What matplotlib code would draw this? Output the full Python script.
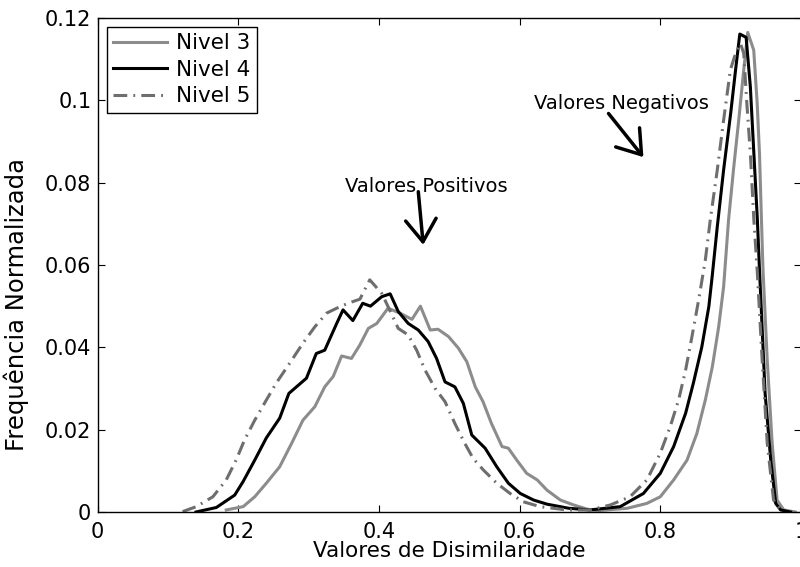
import matplotlib
matplotlib.use("Agg")
import matplotlib.pyplot as plt

plt.rcParams["font.family"] = ["DejaVu Sans"]

# Nivel 3 (gray solid)
x3 = [0.183, 0.207, 0.2235, 0.240, 0.259, 0.276, 0.292, 0.309, 0.323, 0.335, 0.347, 0.361,
      0.373, 0.385, 0.397, 0.413, 0.430, 0.447, 0.459, 0.473, 0.484, 0.499, 0.513, 0.525,
      0.537, 0.548, 0.560, 0.575, 0.584, 0.596, 0.610, 0.625, 0.639, 0.658, 0.677, 0.696,
      0.710, 0.753, 0.781, 0.800, 0.819, 0.838, 0.852, 0.864, 0.874, 0.883, 0.890, 0.897,
      0.904, 0.9115, 0.9186, 0.9243, 0.9328, 0.9377, 0.941, 0.9438, 0.946, 0.952, 0.959,
      0.966, 0.9755, 0.992]
y3 = [0.0005, 0.0013, 0.0037, 0.0070, 0.0110, 0.0167, 0.0223, 0.0256, 0.0304, 0.0329, 0.0379, 0.0373,
      0.0406, 0.0446, 0.0458, 0.0495, 0.0483, 0.0468, 0.0500, 0.0442, 0.0444, 0.0426, 0.0398, 0.0365,
      0.0304, 0.0268, 0.0215, 0.0159, 0.0155, 0.0126, 0.0094, 0.0078, 0.0053, 0.0029, 0.0017, 0.0007,
      0.0003, 0.0009, 0.0021, 0.0037, 0.0078, 0.0126, 0.0191, 0.0272, 0.0353, 0.0450, 0.0547, 0.0709,
      0.0831, 0.0952, 0.1074, 0.1165, 0.1122, 0.0993, 0.0871, 0.0709, 0.0588, 0.0369, 0.0167,
      0.0029, 0.0005, 0.0]

# Nivel 4 (black solid)
x4 = [0.140, 0.169, 0.195, 0.207, 0.2235, 0.240, 0.259, 0.272, 0.297, 0.311, 0.323, 0.340,
      0.349, 0.363, 0.377, 0.388, 0.404, 0.416, 0.4275, 0.4417, 0.456, 0.470, 0.482, 0.494,
      0.508, 0.520, 0.532, 0.551, 0.5675, 0.584, 0.601, 0.620, 0.639, 0.670, 0.700, 0.743,
      0.776, 0.800, 0.819, 0.836, 0.847, 0.859, 0.869, 0.8736, 0.881, 0.890, 0.900, 0.907,
      0.913, 0.922, 0.928, 0.933, 0.938, 0.941, 0.949, 0.957, 0.964, 0.971, 0.985]
y4 = [0.0, 0.0011, 0.0041, 0.0074, 0.0126, 0.0180, 0.0228, 0.0288, 0.0325, 0.0385, 0.0393, 0.0458,
      0.0491, 0.0465, 0.0507, 0.0500, 0.0523, 0.0530, 0.0487, 0.0458, 0.0442, 0.0414, 0.0373, 0.0316,
      0.0304, 0.0264, 0.0187, 0.0155, 0.0110, 0.0070, 0.0045, 0.0029, 0.0019, 0.0009, 0.0005, 0.0013,
      0.0045, 0.0094, 0.0159, 0.0240, 0.0313, 0.0401, 0.0499, 0.0570, 0.0693, 0.0831, 0.0968, 0.1074,
      0.1161, 0.1153, 0.1033, 0.0871, 0.0709, 0.0588, 0.0288, 0.0126, 0.0021, 0.0005, 0.0]

# Nivel 5 (gray dash-dot)
x5 = [0.121, 0.1405, 0.164, 0.183, 0.197, 0.209, 0.2235, 0.240, 0.254, 0.273, 0.292, 0.309,
      0.3256, 0.340, 0.356, 0.373, 0.387, 0.404, 0.413, 0.4275, 0.4417, 0.4537, 0.4655, 0.480,
      0.494, 0.508, 0.522, 0.534, 0.5485, 0.5675, 0.5865, 0.605, 0.629, 0.667, 0.700, 0.7288,
      0.757, 0.781, 0.800, 0.814, 0.826, 0.836, 0.845, 0.8545, 0.864, 0.871, 0.881, 0.890,
      0.8996, 0.907, 0.914, 0.9186, 0.923, 0.928, 0.933, 0.9377, 0.9448, 0.952, 0.961, 0.971]
y5 = [0.0001, 0.0013, 0.0037, 0.0078, 0.0126, 0.0175, 0.0223, 0.0272, 0.0313, 0.0361, 0.0410, 0.0450,
      0.0483, 0.0495, 0.0507, 0.0517, 0.0564, 0.0531, 0.0499, 0.0446, 0.0430, 0.0393, 0.0345, 0.0300,
      0.0268, 0.0215, 0.0167, 0.0130, 0.0102, 0.0070, 0.0045, 0.0025, 0.0013, 0.0005, 0.0005, 0.0017,
      0.0037, 0.0078, 0.0143, 0.0207, 0.0272, 0.0345, 0.0426, 0.0515, 0.0612, 0.0709, 0.0831, 0.0952,
      0.1074, 0.1114, 0.1138, 0.1114, 0.0993, 0.0871, 0.0709, 0.0588, 0.0369, 0.0167, 0.0029, 0.0005]

xticks = [0, 0.2, 0.4, 0.6, 0.8, 1]
xtick_labels = ["0", "0.2", "0.4", "0.6", "0.8", "1"]
yticks = [0, 0.02, 0.04, 0.06, 0.08, 0.1, 0.12]
ytick_labels = ["0", "0.02", "0.04", "0.06", "0.08", "0.1", "0.12"]

fig = plt.figure(figsize=(8, 5.67), dpi=100)
ax = fig.add_axes([97.5 / 800, 55 / 567, 703.5 / 800, 494 / 567])

ax.plot(x3, y3, color="#8c8c8c", lw=2.2, label="Nivel 3")
ax.plot(x4, y4, color="black", lw=2.2, label="Nivel 4")
ax.plot(x5, y5, color="#6e6e6e", lw=2.2, linestyle=(0, (4.5, 2, 0.6, 2)), label="Nivel 5")

ax.set_xlim(0, 1)
ax.set_ylim(0, 0.12)
ax.set_xticks(xticks)
ax.set_xticklabels(xtick_labels)
ax.set_yticks(yticks)
ax.set_yticklabels(ytick_labels)
ax.tick_params(direction="in", top=True, right=True, length=5, width=0.8, labelsize=15)
ax.tick_params(axis="x", pad=7)
ax.tick_params(axis="y", pad=4.5)
for s in ax.spines.values():
    s.set_linewidth(1.0)

ax.set_xlabel("Valores de Disimilaridade", fontsize=15.5, labelpad=0)
ax.xaxis.set_label_coords(0.5, -0.059)
ax.set_ylabel("Frequência Normalizada", fontsize=17.5)
ax.yaxis.set_label_coords(-0.097, 0.42)

leg = ax.legend(loc="upper left", bbox_to_anchor=(0.0135, 0.982), fontsize=15.5, fancybox=False,
                edgecolor="black", framealpha=1, handlelength=2.5, handletextpad=0.4,
                borderpad=0.3, labelspacing=0.3, borderaxespad=0)
leg.get_frame().set_linewidth(1.0)

ax.text(0.468, 0.0777, "Valores Positivos", fontsize=14, ha="center", va="baseline")
ax.annotate("", xy=(0.463, 0.0649), xytext=(0.456, 0.0778),
            arrowprops=dict(arrowstyle="->,head_length=0.8,head_width=0.55", lw=2.5,
                            color="black", mutation_scale=20, shrinkA=0, shrinkB=0))
ax.text(0.745, 0.098, "Valores Negativos", fontsize=14, ha="center", va="baseline")
ax.annotate("", xy=(0.776, 0.0862), xytext=(0.7264, 0.0968),
            arrowprops=dict(arrowstyle="->,head_length=0.8,head_width=0.55", lw=2.5,
                            color="black", mutation_scale=20, shrinkA=0, shrinkB=0))

fig.savefig("out.png", dpi=100)
